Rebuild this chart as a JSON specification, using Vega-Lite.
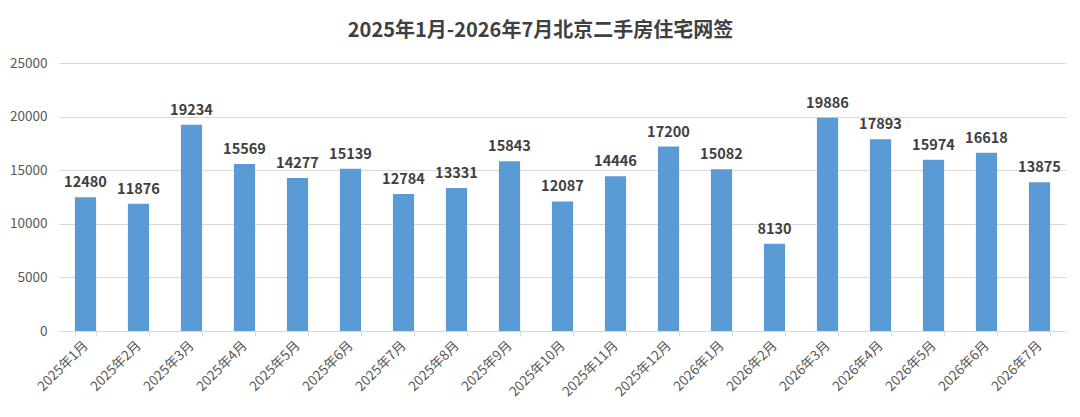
{
  "$schema": "https://vega.github.io/schema/vega-lite/v6.json",
  "width": 1007,
  "height": 268,
  "autosize": {"type": "none"},
  "padding": {"left": 59, "top": 63, "right": 14, "bottom": 86},
  "background": "white",
  "view": {"stroke": null},
  "title": {
    "text": "2025年1月-2026年7月北京二手房住宅网签",
    "font": "Noto Sans CJK SC",
    "fontSize": 20,
    "fontWeight": "bold",
    "color": "#404040",
    "anchor": "middle",
    "dx": -22,
    "offset": 15
  },
  "data": {
    "values": [
      {"month": "2025年1月", "value": 12480},
      {"month": "2025年2月", "value": 11876},
      {"month": "2025年3月", "value": 19234},
      {"month": "2025年4月", "value": 15569},
      {"month": "2025年5月", "value": 14277},
      {"month": "2025年6月", "value": 15139},
      {"month": "2025年7月", "value": 12784},
      {"month": "2025年8月", "value": 13331},
      {"month": "2025年9月", "value": 15843},
      {"month": "2025年10月", "value": 12087},
      {"month": "2025年11月", "value": 14446},
      {"month": "2025年12月", "value": 17200},
      {"month": "2026年1月", "value": 15082},
      {"month": "2026年2月", "value": 8130},
      {"month": "2026年3月", "value": 19886},
      {"month": "2026年4月", "value": 17893},
      {"month": "2026年5月", "value": 15974},
      {"month": "2026年6月", "value": 16618},
      {"month": "2026年7月", "value": 13875}
    ]
  },
  "encoding": {
    "x": {
      "field": "month",
      "type": "nominal",
      "sort": null,
      "scale": {"paddingInner": 0.6, "paddingOuter": 0.3},
      "axis": {
        "title": null,
        "labelAngle": -45,
        "labelAlign": "right",
        "labelBaseline": "middle",
        "labelFont": "Noto Sans CJK SC",
        "labelFontSize": 13.5,
        "labelColor": "#595959",
        "labelPadding": 7,
        "domainColor": "#d9d9d9",
        "tickColor": "#d9d9d9",
        "tickBand": "extent",
        "tickSize": 5,
        "grid": false
      }
    },
    "y": {
      "field": "value",
      "type": "quantitative",
      "scale": {"domain": [0, 25000]},
      "axis": {
        "title": null,
        "values": [0, 5000, 10000, 15000, 20000, 25000],
        "format": "d",
        "domain": false,
        "ticks": false,
        "labelPadding": 12,
        "labelFont": "Noto Sans CJK SC",
        "labelFontSize": 13.5,
        "labelColor": "#595959",
        "gridColor": "#d9d9d9",
        "gridWidth": 1
      }
    }
  },
  "layer": [
    {"mark": {"type": "bar", "color": "#5b9bd5"}},
    {
      "mark": {
        "type": "text",
        "dy": -14,
        "font": "Noto Sans CJK SC",
        "fontSize": 14.5,
        "fontWeight": "bold",
        "color": "#404040"
      },
      "encoding": {"text": {"field": "value", "type": "quantitative", "format": "d"}}
    }
  ]
}
